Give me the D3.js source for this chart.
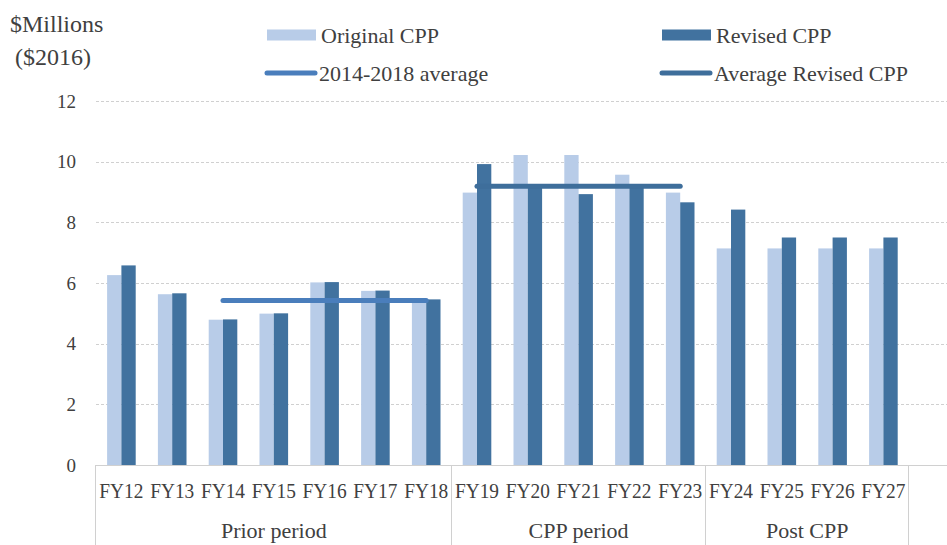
<!DOCTYPE html>
<html>
<head>
<meta charset="utf-8">
<script src="https://cdn.jsdelivr.net/npm/d3@7"></script>
<style>
  html, body { margin: 0; padding: 0; background: #fff; }
  svg { display: block; }
  text { font-family: "Liberation Serif", "DejaVu Serif", serif; fill: #404040; }
</style>
</head>
<body>
<svg id="chart" width="947" height="545"></svg>
<script>
// Fiscal years shown on the category axis
const categories = ["FY12","FY13","FY14","FY15","FY16","FY17","FY18","FY19","FY20","FY21","FY22","FY23","FY24","FY25","FY26","FY27"];
// Spending, $ millions (2016 dollars)
const originalCPP = [6.26, 5.63, 4.79, 4.99, 6.02, 5.74, 5.44, 8.98, 10.22, 10.22, 9.57, 8.98, 7.14, 7.14, 7.14, 7.14];
const revisedCPP  = [6.58, 5.66, 4.80, 5.00, 6.03, 5.75, 5.46, 9.92, 9.20, 8.93, 9.20, 8.66, 8.42, 7.50, 7.50, 7.50];
// Reference averages drawn as horizontal lines
const avg2014to2018 = { label: "2014-2018 average", from: "FY14", to: "FY18", value: 5.42 };
const avgRevised    = { label: "Average Revised CPP", from: "FY19", to: "FY23", value: 9.19 };
// Period groupings under the year labels
const periodNames  = ["Prior period", "CPP period", "Post CPP"];
const periodStarts = ["FY12", "FY19", "FY24"];
const periodEnds   = ["FY18", "FY23", "FY27"];
const yTicks = [0, 2, 4, 6, 8, 10, 12];

const svg = d3.select("#chart");
const W = 947;
const plotLeft = 96, bandW = 50.8;
const plotTop = 101, plotBottom = 465;

const x = d3.scaleBand().domain(categories).range([plotLeft, plotLeft + bandW * categories.length]).paddingInner(0).paddingOuter(0);
const x1 = d3.scaleBand().domain(["orig", "rev"]).range([x.bandwidth() / 2 - 14.3, x.bandwidth() / 2 + 14.3]);
const y = d3.scaleLinear().domain([0, 12]).range([plotBottom, plotTop]);

const cLight = "#b8cce8", cDark = "#41729f", cAvg1 = "#4a7ebc", cAvg2 = "#3e6e9b";
const textCol = "#404040";

// Squeeze a text element horizontally so the serif face reads narrower
function condense(sel, k) {
  sel.each(function () {
    const w = this.getComputedTextLength();
    d3.select(this).attr("textLength", w * k).attr("lengthAdjust", "spacingAndGlyphs");
  });
}

// Gridlines
svg.append("g").selectAll("line").data(yTicks.filter(d => d > 0)).join("line")
  .attr("x1", plotLeft).attr("x2", W)
  .attr("y1", d => Math.round(y(d)) + 0.5).attr("y2", d => Math.round(y(d)) + 0.5)
  .attr("stroke", "#d0d0d0").attr("stroke-width", 1).attr("stroke-dasharray", "3,2");

// Y axis labels
const yAxis = d3.axisLeft(y).tickValues(yTicks).tickSize(0).tickPadding(20);
const yg = svg.append("g").attr("transform", `translate(${plotLeft},0)`).call(yAxis);
yg.select(".domain").remove();
yg.selectAll("text").style("font-family", '"Liberation Serif", serif').style("font-size", "19px").attr("fill", "#595959");

// Bars
const groups = svg.append("g").selectAll("g").data(categories).join("g")
  .attr("transform", d => `translate(${x(d)},0)`);
groups.append("rect")
  .attr("x", x1("orig")).attr("width", x1.bandwidth())
  .attr("y", (d, i) => y(originalCPP[i])).attr("height", (d, i) => y(0) - y(originalCPP[i]))
  .attr("fill", cLight);
groups.append("rect")
  .attr("x", x1("rev")).attr("width", x1.bandwidth())
  .attr("y", (d, i) => y(revisedCPP[i])).attr("height", (d, i) => y(0) - y(revisedCPP[i]))
  .attr("fill", cDark);

// Average lines
const mid = c => x(c) + x.bandwidth() / 2;
[[avg2014to2018, cAvg1], [avgRevised, cAvg2]].forEach(([a, col]) => {
  svg.append("line")
    .attr("x1", mid(a.from)).attr("x2", mid(a.to))
    .attr("y1", y(a.value)).attr("y2", y(a.value))
    .attr("stroke", col).attr("stroke-width", 5).attr("stroke-linecap", "round");
});

// Category axis: baseline, period boxes, labels
const axisCol = "#d0d0d0";
svg.append("line").attr("x1", plotLeft).attr("x2", W).attr("y1", plotBottom + 0.5).attr("y2", plotBottom + 0.5)
  .attr("stroke", axisCol);
const bounds = periodStarts.map(s => x(s)).concat([x(periodEnds[periodEnds.length - 1]) + x.bandwidth()]);
svg.append("g").selectAll("line").data(bounds).join("line")
  .attr("x1", d => Math.round(d) - 0.5).attr("x2", d => Math.round(d) - 0.5)
  .attr("y1", plotBottom).attr("y2", 545)
  .attr("stroke", axisCol);

svg.append("g").selectAll("text").data(categories).join("text")
  .attr("x", d => mid(d)).attr("y", 498)
  .attr("text-anchor", "middle").style("font-size", "22px").attr("fill", textCol)
  .text(d => d)
  .call(condense, 0.88);

svg.append("g").selectAll("text").data(periodNames).join("text")
  .attr("x", (d, i) => (x(periodStarts[i]) + x(periodEnds[i]) + x.bandwidth()) / 2)
  .attr("y", 538)
  .attr("text-anchor", "middle").style("font-size", "22px").attr("fill", textCol)
  .text(d => d);

// Unit label
svg.append("text").attr("x", 10).attr("y", 32).style("font-size", "24px").attr("fill", textCol).text("$Millions");
svg.append("text").attr("x", 15).attr("y", 65).style("font-size", "24px").attr("fill", textCol).text("($2016)");

// Legend
const legend = [
  { label: "Original CPP", type: "rect", color: cLight, x: 267, y: 35 },
  { label: "Revised CPP", type: "rect", color: cDark, x: 662, y: 35 },
  { label: avg2014to2018.label, type: "line", color: cAvg1, x: 265, y: 73 },
  { label: avgRevised.label, type: "line", color: cAvg2, x: 660, y: 73 }
];
const lg = svg.append("g").selectAll("g").data(legend).join("g")
  .attr("transform", d => `translate(${d.x},${d.y})`);
lg.filter(d => d.type === "rect").append("rect")
  .attr("x", 0).attr("y", -5.5).attr("width", 49).attr("height", 11).attr("fill", d => d.color);
lg.filter(d => d.type === "line").append("line")
  .attr("x1", 2).attr("x2", 50).attr("y1", 0).attr("y2", 0)
  .attr("stroke", d => d.color).attr("stroke-width", 5).attr("stroke-linecap", "round");
lg.append("text").attr("x", 54).attr("y", 7.5).style("font-size", "22px").attr("fill", textCol).text(d => d.label);
</script>
</body>
</html>
